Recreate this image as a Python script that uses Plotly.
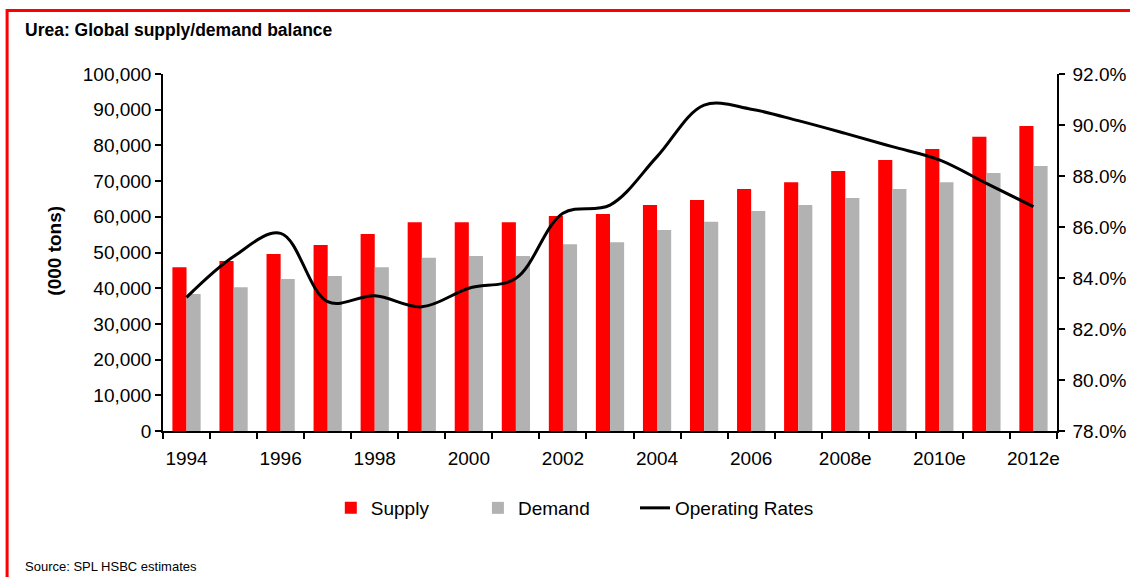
import plotly.graph_objects as go

years = ["1994", "1995", "1996", "1997", "1998", "1999", "2000", "2001", "2002", "2003",
         "2004", "2005", "2006", "2007", "2008e", "2009e", "2010e", "2011e", "2012e"]
supply = [45900, 47600, 49600, 52100, 55200, 58500, 58500, 58500, 60200, 60800,
          63300, 64700, 67800, 69700, 72800, 75900, 79000, 82400, 85400]
demand = [38400, 40300, 42600, 43400, 45900, 48500, 49000, 49000, 52300, 52900,
          56300, 58600, 61600, 63300, 65300, 67800, 69700, 72300, 74200]
operating_rates = [83.24, 84.84, 85.75, 83.07, 83.30, 82.87, 83.60, 83.99, 86.54, 86.86,
                   88.76, 90.78, 90.62, 90.17, 89.67, 89.15, 88.63, 87.71, 86.80]
tick_text = [y if i % 2 == 0 else "" for i, y in enumerate(years)]

W, H = 1130, 577
L, R, T, B = 163.3, 73.3, 74, 146
PW, PH = W - L - R, H - T - B

def fx(px):
    return (px - L) / PW

def fy(py):
    return 1 - (py - T) / PH

narrow = "Liberation Sans Narrow, Arial Narrow, Liberation Sans, Arial"
sans = "Liberation Sans, Arial"

fig = go.Figure()
fig.add_trace(go.Bar(x=years, y=supply, name="Supply", marker_color="#FF0000",
                     marker_line_width=0, yaxis="y", legend="legend"))
fig.add_trace(go.Bar(x=years, y=demand, name="Demand", marker_color="#B2B2B2",
                     marker_line_width=0, yaxis="y", legend="legend2"))
fig.add_trace(go.Scatter(x=years, y=operating_rates, name="Operating Rates", mode="lines",
                         line=dict(color="black", width=3, shape="spline", smoothing=1),
                         yaxis="y2", legend="legend3"))

axis_common = dict(ticks="outside", ticklen=6, tickwidth=1.5, tickcolor="black",
                   showline=True, linecolor="black", linewidth=1.5, showgrid=False,
                   zeroline=False, automargin=False,
                   tickfont=dict(family=sans, size=19, color="black"))

leg_common = dict(orientation="h", xanchor="left", y=fy(508), yanchor="middle",
                  font=dict(family=sans, size=19, color="black"), bgcolor="rgba(0,0,0,0)")

fig.update_layout(
    width=W, height=H,
    margin=dict(l=L, r=R, t=T, b=B, autoexpand=False),
    paper_bgcolor="white", plot_bgcolor="white",
    barmode="group", bargap=0.4, bargroupgap=0,
    font=dict(family=sans, size=19, color="black"),
    xaxis=dict(type="category", tickmode="array", tickvals=years, ticktext=tick_text,
               tickson="boundaries", tickangle=0, ticklabelstandoff=9, **axis_common),
    yaxis=dict(range=[0, 100000], dtick=10000, tickformat=",", **axis_common),
    yaxis2=dict(range=[78, 92], dtick=2, tickformat=".1f", ticksuffix="%",
                overlaying="y", side="right", ticklabelstandoff=4, **axis_common),
    legend=dict(x=fx(373 - 42), **leg_common),
    legend2=dict(x=fx(520 - 42), **leg_common),
    legend3=dict(x=fx(677 - 42), **leg_common),
    showlegend=True,
)

fig.add_annotation(text="<b>Urea: Global supply/demand balance</b>", xref="paper", yref="paper",
                   x=fx(23), y=fy(30), xanchor="left", yanchor="middle", showarrow=False,
                   font=dict(family=narrow, size=17.5, color="black"))
fig.add_annotation(text="<b>(000 tons)</b>", xref="paper", yref="paper",
                   x=fx(54), y=fy(251), xanchor="center", yanchor="middle", showarrow=False,
                   textangle=-90, font=dict(family=sans, size=19, color="black"))
fig.add_annotation(text="Source: SPL HSBC estimates", xref="paper", yref="paper",
                   x=fx(23), y=fy(576), xanchor="left", yanchor="bottom", showarrow=False,
                   font=dict(family=narrow, size=13, color="black"))
fig.add_shape(type="rect", xref="paper", yref="paper",
              x0=fx(7.5), x1=fx(1145), y0=fy(620), y1=fy(10.5),
              line=dict(color="#FF0000", width=3), fillcolor="rgba(0,0,0,0)", layer="below")

fig.write_html("out.html", config={"displayModeBar": False},
               post_script="document.body.style.margin='0';")
